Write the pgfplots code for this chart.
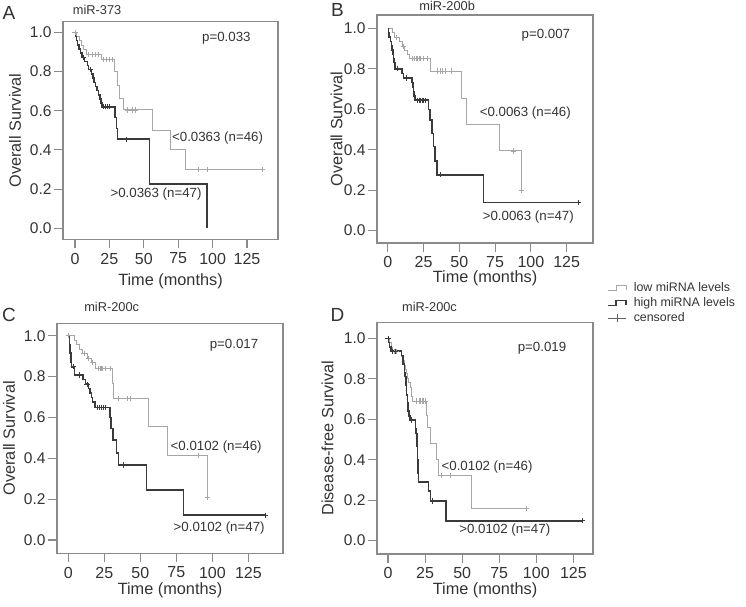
\documentclass[border=0pt]{standalone}
\usepackage{fontspec}
\setmainfont{Liberation Sans}
\usepackage{pgfplots}
\pgfplotsset{compat=1.18}
\definecolor{lowc}{HTML}{A6A6A6}
\definecolor{highc}{HTML}{3A3A3A}
\definecolor{boxc}{HTML}{8A8A8A}
\definecolor{txtc}{HTML}{333333}
\tikzset{
  ann/.style={font=\fontsize{13.3}{15}\selectfont, text=txtc},
  ttl/.style={font=\fontsize{12.8}{14}\selectfont, text=txtc, anchor=west},
}
\pgfplotsset{
  km/.style={
    scale only axis,
    anchor=south west,
    axis line style={boxc, line width=1.1pt},
    tick style={boxc, line width=1.1pt},
    major tick length=9pt,
    tick align=outside,
    xtick pos=bottom, ytick pos=left,
    xtick={0,25,50,75,100,125},
    ytick={0,0.2,0.4,0.6,0.8,1.0},
    yticklabels={0.0,0.2,0.4,0.6,0.8,1.0},
    /pgf/number format/assume math mode=true,
    xticklabel style={font=\fontsize{16}{18}\selectfont, text=txtc, yshift=-1pt},
    yticklabel style={font=\fontsize{15.5}{17}\selectfont, text=txtc, xshift=1pt},
    label style={font=\fontsize{16.3}{18}\selectfont, text=txtc},
    xlabel={Time (months)},
    clip=false,
  },
  lowline/.style={const plot, color=lowc, line width=0.9pt, no marks, forget plot},
  highline/.style={const plot, color=highc, line width=1.5pt, no marks, forget plot},
  lowcens/.style={only marks, mark=+, mark size=2.6pt, color=lowc, mark options={line width=0.8pt}, forget plot},
  highcens/.style={only marks, mark=+, mark size=2.6pt, color=highc, mark options={line width=0.8pt}, forget plot},
  leglow/.style={legend image code/.code={\draw[lowc, line width=0.9pt] (0pt,-2.5pt) -- (8pt,-2.5pt) -- (8pt,2.5pt) -- (18pt,2.5pt) -- (18pt,-1.5pt);}},
  leghigh/.style={legend image code/.code={\draw[highc, line width=1.5pt] (0pt,-2.5pt) -- (8pt,-2.5pt) -- (8pt,2.5pt) -- (18pt,2.5pt) -- (18pt,-1.5pt);}},
  legcens/.style={legend image code/.code={\draw[highc!80, line width=0.8pt] (0pt,0pt) -- (18pt,0pt); \draw[highc!80, line width=0.8pt] (9pt,-4pt) -- (9pt,4pt);}},
}
\begin{document}
\begin{tikzpicture}
\useasboundingbox (0pt,0pt) rectangle (746pt,606pt);
\node[font=\fontsize{19}{20}\selectfont, text=txtc] at (9pt,592.7pt) {A};
\node[font=\fontsize{19}{20}\selectfont, text=txtc] at (337.5pt,596pt) {B};
\node[font=\fontsize{19}{20}\selectfont, text=txtc] at (9pt,291pt) {C};
\node[font=\fontsize{19}{20}\selectfont, text=txtc] at (337.5pt,291pt) {D};

% ---------------- Panel A ----------------
\begin{axis}[km, at={(63pt,366.7pt)}, width=215pt, height=217.6pt,
  xmin=-8.7, xmax=147.5, ymin=-0.056, ymax=1.054,
  ylabel={Overall Survival},
  xlabel style={at={(axis description cs:0.5,-0.195)}, anchor=center},
  ylabel style={at={(axis description cs:-0.223,0.5)}, anchor=center}]
\addplot[lowline] coordinates {(0,1.0)(1,0.978)(3,0.956)(5,0.933)(6,0.91)(8,0.888)(19,0.86)(29,0.80)(31,0.73)(32,0.66)(35,0.604)(56,0.50)(69,0.40)(80,0.30)(136,0.30)};
\addplot[lowcens] coordinates {(0,1.0)(10,0.888)(13,0.888)(15,0.888)(17,0.888)(21,0.86)(23,0.86)(25,0.86)(27,0.86)(38,0.604)(42,0.604)(44,0.604)(90,0.30)(96,0.30)(136,0.30)};
\addplot[highline] coordinates {(0,1)(0.5,0.979)(1,0.957)(2,0.936)(3,0.915)(4,0.894)(5,0.872)(7,0.851)(9,0.83)(10,0.809)(12,0.787)(13,0.766)(14,0.745)(15,0.723)(16,0.702)(17,0.681)(18,0.66)(19,0.638)(19.5,0.62)(29,0.565)(30,0.51)(31,0.455)(54,0.227)(96,0)};
\addplot[highcens] coordinates {(6,0.872)(11,0.809)(20.5,0.62)(22,0.62)(23.5,0.62)(25,0.62)(37,0.455)};
\node[ann] at (axis cs:110,0.97) {p=0.033};
\node[ann] at (axis cs:103.6,0.459) {<0.0363 (n=46)};
\node[ann] at (axis cs:58.9,0.173) {>0.0363 (n=47)};
\node[ttl] at (axis description cs:0.03,1.055) {miR-373};
\end{axis}

% ---------------- Panel B ----------------
\begin{axis}[km, at={(377pt,363pt)}, width=216pt, height=228pt,
  xmin=-7.5, xmax=143.4, ymin=-0.061, ymax=1.066,
  ylabel={Overall Survival},
  xlabel style={at={(axis description cs:0.5,-0.155)}, anchor=center},
  ylabel style={at={(axis description cs:-0.187,0.5)}, anchor=center},
  legend style={at={(axis description cs:1.065,-0.165)}, anchor=north west, draw=none, fill=none,
    font=\fontsize{12.4}{13}\selectfont, text=txtc, inner sep=0pt, row sep=0.6pt,
    /tikz/every odd column/.append style={column sep=5pt}},
  legend cell align=left]
\addplot[lowline] coordinates {(0,1)(3,0.978)(5,0.956)(8,0.934)(10,0.912)(12,0.89)(13.5,0.87)(15,0.852)(29.5,0.789)(51.7,0.655)(54.7,0.526)(78,0.394)(93.5,0.197)};
\addplot[lowcens] coordinates {(6,0.956)(11,0.912)(17,0.852)(18.5,0.852)(20,0.852)(21,0.852)(22,0.852)(23,0.852)(25,0.852)(28,0.852)(35,0.789)(36.5,0.789)(38,0.789)(40,0.789)(44.5,0.789)(87.8,0.394)(93.5,0.197)};
\addplot[highline] coordinates {(0,1)(0.5,0.979)(1,0.957)(2,0.936)(2.5,0.915)(3,0.894)(3.5,0.872)(4,0.851)(4.5,0.83)(5,0.80)(10,0.778)(11,0.755)(17,0.732)(17.5,0.71)(18,0.687)(18.5,0.665)(19,0.645)(28.5,0.60)(29.5,0.547)(31,0.48)(32,0.415)(33,0.345)(34.5,0.276)(67,0.138)(133,0.138)};
\addplot[highcens] coordinates {(7,0.80)(13,0.755)(21,0.645)(22,0.645)(23,0.645)(24,0.645)(25,0.645)(26,0.645)(37,0.276)(133,0.138)};
\node[ann] at (axis cs:110.5,0.967) {p=0.007};
\node[ann] at (axis cs:96.1,0.58) {<0.0063 (n=46)};
\node[ann] at (axis cs:98.2,0.066) {>0.0063 (n=47)};
\node[ttl] at (axis description cs:0.18,1.04) {miR-200b};
\addlegendimage{leglow}
\addlegendentry{low miRNA levels}
\addlegendimage{leghigh}
\addlegendentry{high miRNA levels}
\addlegendimage{legcens}
\addlegendentry{censored}
\end{axis}

% ---------------- Panel C ----------------
\begin{axis}[km, at={(57pt,52.7pt)}, width=226pt, height=230pt,
  xmin=-7.8, xmax=149, ymin=-0.065, ymax=1.061,
  ylabel={Overall Survival},
  xlabel style={at={(axis description cs:0.5,-0.16)}, anchor=center},
  ylabel style={at={(axis description cs:-0.212,0.5)}, anchor=center}]
\addplot[lowline] coordinates {(0,1)(4.6,0.978)(6,0.956)(8,0.934)(10,0.912)(13,0.89)(16,0.868)(19,0.84)(31,0.765)(31.5,0.693)(55.5,0.554)(68.7,0.415)(96.5,0.208)};
\addplot[lowcens] coordinates {(0,1)(11,0.912)(14,0.89)(17,0.868)(21,0.84)(22,0.84)(23,0.84)(24,0.84)(26,0.84)(29,0.84)(35,0.693)(41,0.693)(43,0.693)(90,0.415)(96.5,0.208)};
\addplot[highline] coordinates {(0,1)(0.7,0.957)(1.3,0.915)(1.8,0.872)(2.3,0.848)(4.5,0.808)(10.4,0.785)(12,0.763)(14,0.741)(15,0.719)(16,0.697)(17,0.675)(18.5,0.649)(29,0.60)(29.5,0.545)(31,0.49)(33.5,0.427)(35,0.367)(54.4,0.245)(80,0.122)(136.6,0.122)};
\addplot[highcens] coordinates {(3.5,0.848)(8,0.808)(13,0.763)(20,0.649)(21.5,0.649)(23,0.649)(24.5,0.649)(26,0.649)(38,0.367)(136.6,0.122)};
\node[ann] at (axis cs:115,0.955) {p=0.017};
\node[ann] at (axis cs:102.6,0.457) {<0.0102 (n=46)};
\node[ann] at (axis cs:104.7,0.057) {>0.0102 (n=47)};
\node[ttl] at (axis description cs:0.105,1.07) {miR-200c};
\end{axis}

% ---------------- Panel D ----------------
\begin{axis}[km, at={(377pt,52pt)}, width=216pt, height=231.7pt,
  xmin=-7.4, xmax=138.2, ymin=-0.066, ymax=1.079,
  ylabel={Disease-free Survival},
  xlabel style={at={(axis description cs:0.5,-0.155)}, anchor=center},
  ylabel style={at={(axis description cs:-0.229,0.5)}, anchor=center}]
\addplot[lowline] coordinates {(0,1)(1,0.978)(2,0.956)(3,0.934)(9,0.912)(10,0.89)(11,0.868)(12,0.846)(12.5,0.824)(13,0.802)(14,0.78)(15,0.758)(15.5,0.736)(16,0.712)(16.5,0.69)(26,0.62)(26.7,0.558)(28.3,0.48)(33,0.40)(34.2,0.32)(56,0.16)(93,0.16)};
\addplot[lowcens] coordinates {(0,1)(4,0.934)(5,0.934)(6,0.934)(19,0.69)(21,0.69)(22,0.69)(23,0.69)(24,0.69)(25,0.69)(36,0.32)(42,0.32)(93,0.16)};
\addplot[highline] coordinates {(0,1)(0.5,0.979)(1,0.957)(2,0.936)(9,0.915)(10,0.872)(11,0.83)(11.5,0.81)(12,0.766)(12.5,0.72)(13,0.68)(13.5,0.64)(14,0.617)(15,0.596)(18.4,0.553)(19,0.53)(19.5,0.465)(20,0.40)(20.3,0.335)(20.6,0.29)(27.4,0.245)(28.5,0.196)(39.1,0.098)(131,0.098)};
\addplot[highcens] coordinates {(0,1)(3,0.936)(5,0.936)(16,0.596)(30,0.196)(131,0.098)};
\node[ann] at (axis cs:103.8,0.95) {p=0.019};
\node[ann] at (axis cs:66.8,0.365) {<0.0102 (n=46)};
\node[ann] at (axis cs:78.7,0.052) {>0.0102 (n=47)};
\node[ttl] at (axis description cs:0.1,1.065) {miR-200c};
\end{axis}
\end{tikzpicture}
\end{document}
